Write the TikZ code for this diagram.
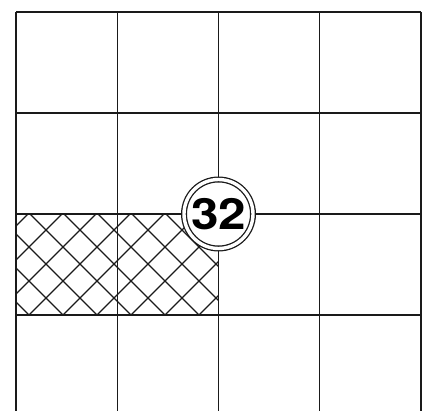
\documentclass[tikz,border=0pt]{standalone}
\usepackage{fontspec}
\setsansfont{TeX Gyre Heros}
\usetikzlibrary{positioning}
\definecolor{GridInk}{HTML}{1A1A1A}
\tikzset{
  gridline/.style={line width=1.4pt,GridInk},
  hatchline/.style={line width=1.1pt,GridInk},
  badge/.style={circle,draw=GridInk,fill=white,line width=1.3pt,double,double distance=3.4pt,
    minimum size=69pt,inner sep=0pt,font=\sffamily\bfseries\fontsize{43}{43}\selectfont}
}

\begin{document}
\begin{tikzpicture}[x=1pt,y=-1pt]
  \useasboundingbox (0,0) rectangle (438,411);
  % --- cross hatching of the two left cells, third row ---
  \begin{scope}
    \clip (16,214) rectangle (218,315);
    \foreach \k in {-4,...,9} {
      \draw[hatchline] ({29+34*\k+10},325) -- ++(-125,-125);
      \draw[hatchline] ({29+34*\k-10},325) -- ++(125,-125);
    }
  \end{scope}
  % --- grid: 4 columns, rows run off the bottom edge ---
  \foreach \x in {16,117.25,218.5,319.75,421} {
    \draw[gridline] (\x,12) -- (\x,411);
  }
  \foreach \y in {12,113,214,315} {
    \draw[gridline] (16,\y) -- (421,\y);
  }
  % --- number badge on the grid crossing ---
  \node[badge] (num) at (218.5,214) {\scalebox{1.15}[1]{32}};
\end{tikzpicture}
\end{document}
